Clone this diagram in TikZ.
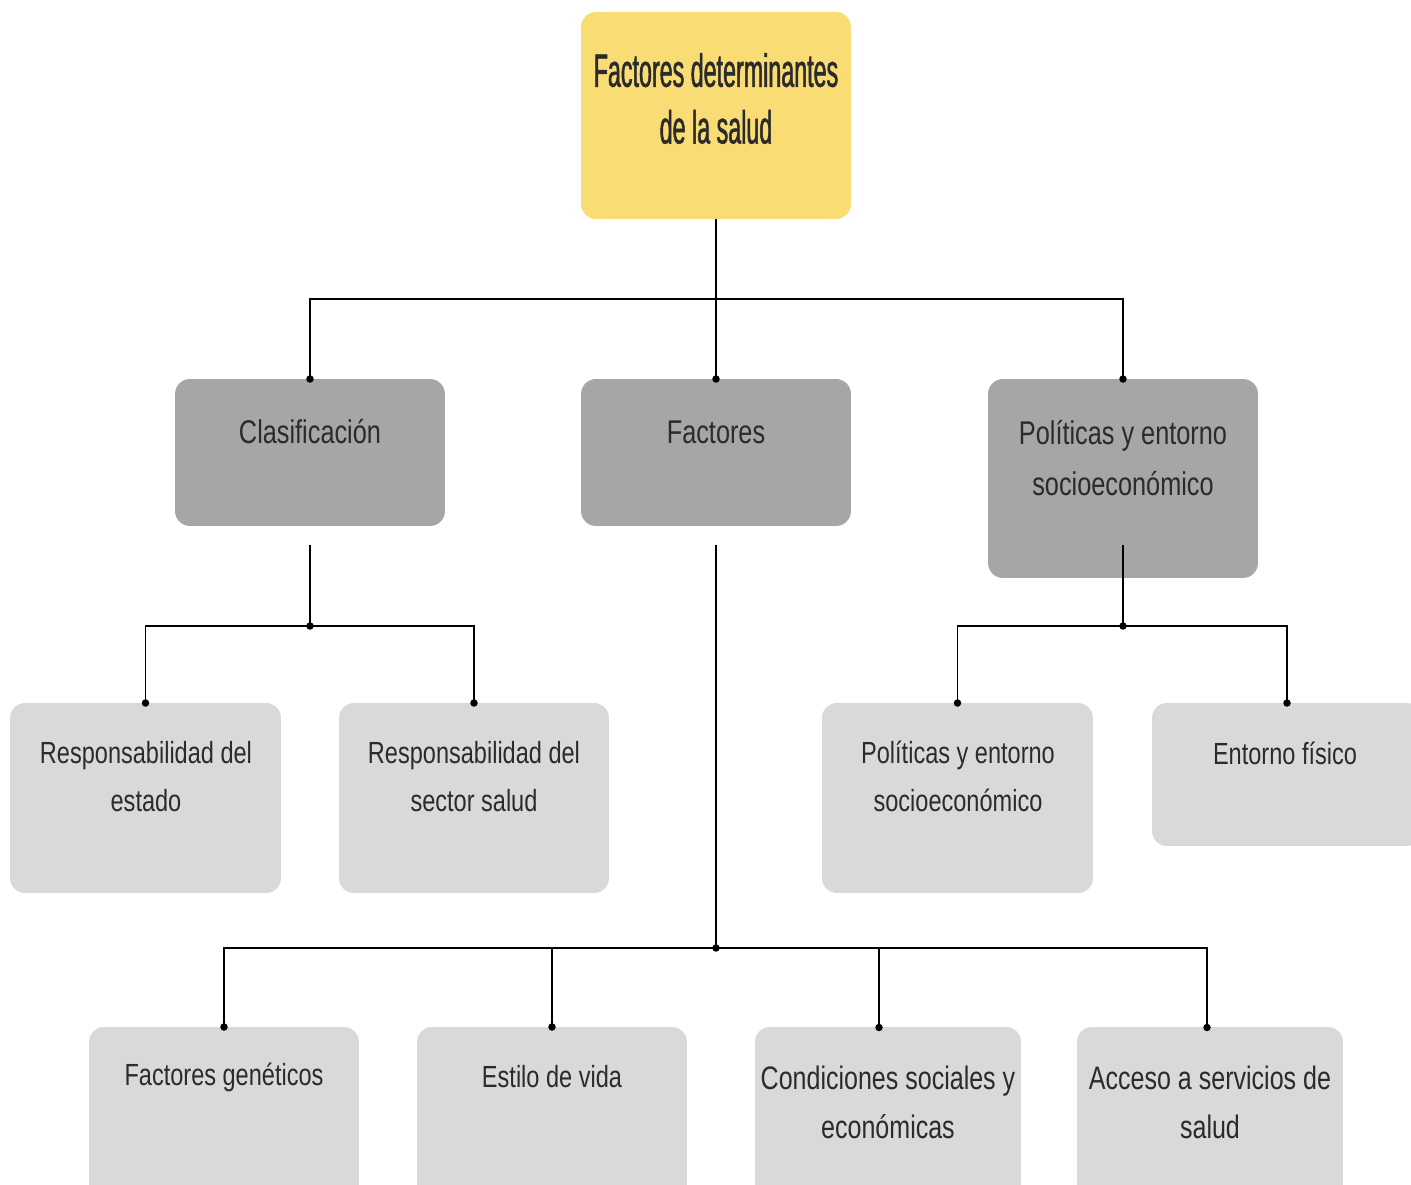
\documentclass[tikz,border=0pt]{standalone}
\usepackage{fontspec}
\setmainfont[FakeStretch=0.77]{Liberation Sans}
\newfontfamily\titlefont[FakeStretch=0.5,FakeBold=1.1]{Liberation Sans}
\definecolor{ytitle}{HTML}{F9DD74}
\definecolor{gmid}{HTML}{A6A6A6}
\definecolor{glow}{HTML}{D9D9D9}
\definecolor{txt}{HTML}{2B2B2B}
\begin{document}
\begin{tikzpicture}[x=0.02cm,y=-0.02cm,
  box/.style={rounded corners=0.3cm, inner sep=0pt, outer sep=0pt, draw=none},
  topbox/.style={box, fill=ytitle},
  midbox/.style={box, fill=gmid},
  lowbox/.style={box, fill=glow},
  lbl/.style={align=center, text=txt, inner sep=0pt},
  lbltitle/.style={lbl, font=\titlefont\fontsize{26.5}{32.3}\selectfont},
  lbltwo/.style={lbl, font=\fontsize{18.7}{29.5}\selectfont},
  lblthree/.style={lbl, font=\fontsize{17.4}{27.2}\selectfont},
  lblfour/.style={lbl, font=\fontsize{18.5}{27.8}\selectfont},
  link/.style={line width=1.1pt, draw=black},
  jdot/.style={circle, fill=black, inner sep=0pt, minimum size=0.15cm}
]
\useasboundingbox (0,0) rectangle (1411,1185);

% boxes
\node[topbox, minimum width=5.4cm, minimum height=4.14cm] (T) at (716,115.5) {};
\node[midbox, minimum width=5.4cm, minimum height=2.94cm] (C1) at (310,452.5) {};
\node[midbox, minimum width=5.4cm, minimum height=2.94cm] (C2) at (716,452.5) {};
\node[midbox, minimum width=5.4cm, minimum height=3.98cm] (C3) at (1123,478.5) {};
\node[lowbox, minimum width=5.42cm, minimum height=3.8cm] (L1) at (145.5,798) {};
\node[lowbox, minimum width=5.4cm, minimum height=3.8cm] (L2) at (474,798) {};
\node[lowbox, minimum width=5.42cm, minimum height=3.8cm] (L3) at (957.5,798) {};
\node[lowbox, minimum width=5.4cm, minimum height=2.86cm] (L4) at (1287,774.5) {};
\node[lowbox, minimum width=5.4cm, minimum height=4.06cm] (B1) at (224,1128.5) {};
\node[lowbox, minimum width=5.4cm, minimum height=4.06cm] (B2) at (552,1128.5) {};
\node[lowbox, minimum width=5.32cm, minimum height=4.06cm] (B3) at (888,1128.5) {};
\node[lowbox, minimum width=5.32cm, minimum height=4.06cm] (B4) at (1210,1128.5) {};

% coordinates
\coordinate (h0) at (716,299);
\coordinate (s1) at (310,545);
\coordinate (h1) at (310,626);
\coordinate (s2) at (716,545);
\coordinate (h2) at (716,948);
\coordinate (s3) at (1123,545);
\coordinate (h3) at (1123,626);
\coordinate (a3) at (879,1027.5);
\coordinate (a4) at (1207,1027.5);

% connectors
\draw[link] (T.south) -- (C2.north);
\draw[link] (C1.north) |- (h0) -| (C3.north);
\draw[link] (s1) -- (h1);
\draw[link] (L1.north) |- (h1) -| (L2.north);
\draw[link] (s3) -- (h3);
\draw[link] (L3.north) |- (h3) -| (L4.north);
\draw[link] (s2) -- (h2);
\draw[link] (B1.north) |- (h2) -| (a4);
\draw[link] (B2.north) -- (B2.north |- h2);
\draw[link] (a3) -- (a3 |- h2);

% dots
\node[jdot] (dC1) at (C1.north) {};
\node[jdot] (dC2) at (C2.north) {};
\node[jdot] (dC3) at (C3.north) {};
\node[jdot] (dh1) at (h1) {};
\node[jdot] (dh3) at (h3) {};
\node[jdot] (dh2) at (h2) {};
\node[jdot] (dL1) at (L1.north) {};
\node[jdot] (dL2) at (L2.north) {};
\node[jdot] (dL3) at (L3.north) {};
\node[jdot] (dL4) at (L4.north) {};
\node[jdot] (dB1) at (B1.north) {};
\node[jdot] (dB2) at (B2.north) {};
\node[jdot] (dB3) at (a3) {};
\node[jdot] (dB4) at (a4) {};

% labels
\node[lbltitle] (Tt) at (716,98.5) {Factores determinantes\\de la salud};
\node[lbltwo] (C1t) at (310,432) {Clasificación};
\node[lbltwo] (C2t) at (716,432) {Factores};
\node[lbltwo] (C3t) at (1123,458) {Políticas y entorno\\socioeconómico};
\node[lblthree] (L1t) at (146,776.5) {Responsabilidad del\\estado};
\node[lblthree] (L2t) at (474,776.5) {Responsabilidad del\\sector salud};
\node[lblthree] (L3t) at (958,776.5) {Políticas y entorno\\socioeconómico};
\node[lblthree] (L4t) at (1285,753) {Entorno físico};
\node[lblthree] (B1t) at (224,1077) {Factores genéticos};
\node[lblthree] (B2t) at (552,1077) {Estilo de vida};
\node[lblfour] (B3t) at (888,1102.5) {Condiciones sociales y\\económicas};
\node[lblfour] (B4t) at (1210,1102.5) {Acceso a servicios de\\salud};
\end{tikzpicture}
\end{document}
